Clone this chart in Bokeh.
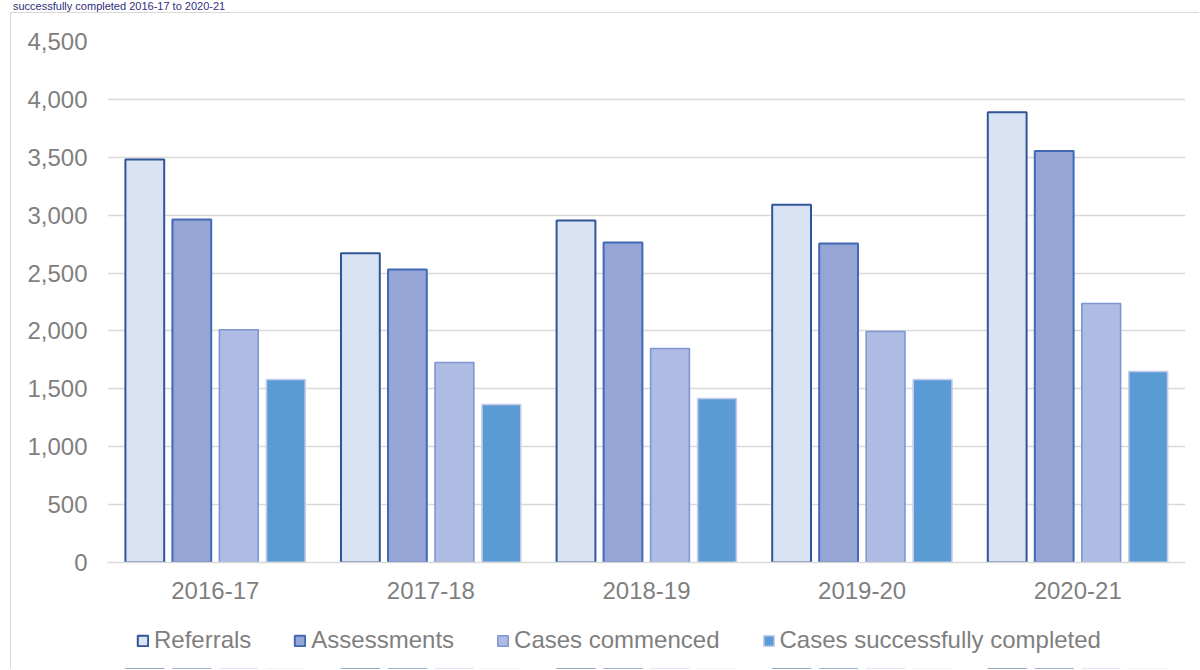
from bokeh.plotting import figure
from bokeh.models import (FactorRange, Range1d, Legend, LegendItem, NumeralTickFormatter,
                          FixedTicker, Div)
from bokeh.layouts import column
from bokeh.transform import dodge
from bokeh.embed import file_html
from bokeh.resources import INLINE

years = ["2016-17", "2017-18", "2018-19", "2019-20", "2020-21"]
referrals = [3480, 2670, 2955, 3090, 3888]
assessments = [2962, 2531, 2764, 2755, 3555]
commenced = [2010, 1727, 1848, 1995, 2237]
completed = [1581, 1365, 1416, 1581, 1650]
series_names = ["Referrals", "Assessments", "Cases commenced", "Cases successfully completed"]
y_ticks = [0, 500, 1000, 1500, 2000, 2500, 3000, 3500, 4000, 4500]
title_text = "successfully completed 2016-17 to 2020-21"

FONT = "Liberation Sans"
GRAY = "#7f7f7f"
BORDER = "1px solid #d9d9d9"

W = 1189
H1 = 597
p = figure(x_range=FactorRange(factors=years, range_padding=0),
           y_range=(0, 4500), width=W, height=H1,
           output_backend="svg", toolbar_location=None,
           min_border_left=96, min_border_right=W - 1174,
           min_border_top=28, min_border_bottom=H1 - 549,
           styles={"border-left": BORDER, "border-top": BORDER},
           margin=(0, 0, 0, 10))
p.outline_line_color = None
p.background_fill_color = "white"
p.border_fill_color = "white"

data = dict(year=years, r=referrals, a=assessments, c=commenced, s=completed)

styles = [
    ("r", -0.327, "#DAE3F3", "#2F5597", 2.0),
    ("a", -0.109, "#95A5D6", "#4169B8", 2.0),
    ("c", 0.109, "#AEBBE2", "#8096D4", 1.6),
    ("s", 0.327, "#5B9BD5", "#C3CCE8", 1.6),
]
for key, off, fill, line, lw in styles:
    p.vbar(x=dodge("year", off, range=p.x_range), top=key, width=0.18,
           source=data, fill_color=fill, line_color=line, line_width=lw)

p.yaxis.ticker = FixedTicker(ticks=y_ticks)
p.yaxis.formatter = NumeralTickFormatter(format="0,0")
for ax in (p.xaxis[0], p.yaxis[0]):
    ax.major_tick_line_color = None
    ax.minor_tick_line_color = None
    ax.major_tick_out = 0
    ax.major_tick_in = 0
    ax.minor_tick_out = 0
    ax.major_label_text_font = FONT
    ax.major_label_text_font_size = "24px"
    ax.major_label_text_color = GRAY
p.yaxis.axis_line_color = None
p.yaxis.major_label_standoff = 20
p.xaxis.axis_line_color = "#d9d9d9"
p.xaxis.axis_line_width = 1.5
p.xaxis.major_label_standoff = 19

p.xgrid.grid_line_color = None
p.ygrid.grid_line_color = "#d9d9d9"
p.ygrid.grid_line_width = 1.5

# legend strip below the chart; its swatches share the bar styling,
# with the bars themselves kept below this strip's visible range
H2 = 60
lg = figure(x_range=FactorRange(factors=years, range_padding=0),
            y_range=Range1d(4600, 9000), width=W, height=H2,
            output_backend="svg", toolbar_location=None,
            x_axis_location=None, y_axis_location=None,
            min_border=0, styles={"border-left": BORDER},
            margin=(0, 0, 0, 10))
lg.grid.visible = False
lg.outline_line_color = None
lg.background_fill_color = "white"
lg.border_fill_color = "white"
swatches = []
for key, off, fill, line, lw in styles:
    swatches.append(lg.vbar(x=dodge("year", off, range=lg.x_range), top=key, width=0.18,
                            source=data, fill_color=fill, line_color=line, line_width=lw))

legend = Legend(items=[LegendItem(label=n, renderers=[r]) for n, r in zip(series_names, swatches)],
                orientation="horizontal", location=(29, 15),
                glyph_width=13, glyph_height=13, label_standoff=5, spacing=42,
                padding=0, margin=0, border_line_color=None,
                background_fill_alpha=0,
                label_text_font=FONT, label_text_font_size="24px",
                label_text_color=GRAY)
lg.add_layout(legend, "center")

title = Div(text=title_text, width=600, height=12, margin=(0, 0, 0, 13),
            styles={"font-family": FONT, "font-size": "11px", "line-height": "12px",
                    "color": "#302F7C", "white-space": "nowrap"})

layout = column(title, p, lg, spacing=0)
open("out.html", "w").write(file_html(layout, INLINE))
